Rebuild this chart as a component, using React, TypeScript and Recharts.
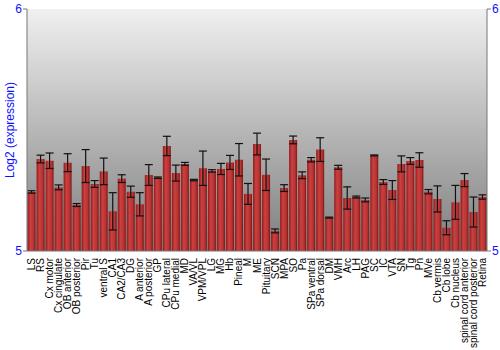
import { Bar, BarChart, CartesianGrid, ErrorBar, XAxis, YAxis } from "recharts";

const regions = [
  "LS", "RS", "Cx motor", "Cx cingulate", "OB anterior", "OB posterior", "Pir", "Tu",
  "ventral S", "CA1", "CA2/CA3", "DG", "A anterior", "A posterior", "GP", "CPu lateral",
  "CPu medial", "MD", "VA/VL", "VPM/VPL", "LG", "MG", "Hb", "Pineal", "M", "ME",
  "Pituitary", "SCN", "MPA", "SO", "Pa", "SPa ventral", "SPa dorsal", "DM", "VMH", "Arc",
  "LH", "PAG", "SC", "IC", "VTA", "SN", "Tg", "Pn", "MVe", "Cb vermis", "Cb lobe",
  "Cb nucleus", "spinal cord anterior", "spinal cord posterior", "Retina",
];

const expression = [
  5.244, 5.38, 5.373, 5.263, 5.365, 5.19, 5.351, 5.277,
  5.329, 5.164, 5.299, 5.245, 5.193, 5.314, 5.303, 5.434,
  5.322, 5.36, 5.293, 5.342, 5.331, 5.339, 5.366, 5.377, 5.236, 5.442,
  5.315, 5.083, 5.26, 5.459, 5.313, 5.377, 5.419, 5.138, 5.346, 5.219,
  5.223, 5.211, 5.395, 5.285, 5.252, 5.36, 5.372, 5.376, 5.245, 5.215, 5.096,
  5.201, 5.293, 5.161, 5.223,
];

const errors = [
  0.005, 0.016, 0.032, 0.01, 0.037, 0.006, 0.068, 0.014,
  0.055, 0.077, 0.016, 0.023, 0.048, 0.043, 0.003, 0.04,
  0.033, 0.006, 0.003, 0.071, 0.005, 0.023, 0.029, 0.067, 0.043, 0.045,
  0.065, 0.008, 0.014, 0.016, 0.014, 0.009, 0.049, 0.002, 0.008, 0.046,
  0.004, 0.008, 0.002, 0.01, 0.039, 0.033, 0.014, 0.03, 0.009, 0.054, 0.029,
  0.07, 0.027, 0.062, 0.009,
];

const yTicks = [5, 6];

const data = regions.map((name, i) => ({ name, value: expression[i], err: errors[i] }));

const XTick = (props: any) => {
  const { x, y, payload } = props;
  return (
    <text
      x={x}
      y={y}
      transform={`rotate(-90, ${x}, ${y})`}
      textAnchor="end"
      dominantBaseline="central"
      fontSize={10}
      fontFamily="Liberation Sans, Arial, sans-serif"
      fill="#000"
    >
      {payload.value}
    </text>
  );
};

export default function App() {
  return (
    <div style={{ position: "absolute", left: 0, top: 0, fontFamily: "Liberation Sans, Arial, sans-serif" }}>
      <BarChart
        width={500}
        height={350}
        data={data}
        margin={{ top: 9, right: 0, bottom: 0, left: 0 }}
        barCategoryGap="6%"
      >
        <defs>
          <linearGradient id="bg" x1="0" y1="0" x2="0" y2="1">
            <stop offset="0%" stopColor="#f0f0f0" />
            <stop offset="100%" stopColor="#7e7e7e" />
          </linearGradient>
          <linearGradient id="barFill" x1="0" y1="0" x2="1" y2="0">
            <stop offset="0%" stopColor="#8e1c1c" />
            <stop offset="35%" stopColor="#cc4040" />
            <stop offset="75%" stopColor="#b83232" />
            <stop offset="100%" stopColor="#7a1616" />
          </linearGradient>
        </defs>
        <CartesianGrid fill="url(#bg)" horizontal={false} vertical={false} />
        <XAxis
          dataKey="name"
          interval={0}
          height={99}
          tick={<XTick />}
          tickLine={false}
          axisLine={{ stroke: "#777" }}
          tickMargin={1}
        />
        <YAxis
          yAxisId="left"
          domain={[5, 6]}
          ticks={yTicks}
          allowDataOverflow
          width={27}
          tick={{ fill: "#1010ff", fontSize: 12 }}
          tickSize={4}
          tickMargin={1}
          tickLine={{ stroke: "#777" }}
          axisLine={{ stroke: "#777" }}
          label={{
            value: "Log2 (expression)",
            angle: -90,
            position: "insideLeft",
            offset: 10,
            fill: "#1010ff",
            fontSize: 12,
            style: { textAnchor: "middle" },
          }}
        />
        <YAxis
          yAxisId="right"
          orientation="right"
          domain={[5, 6]}
          ticks={yTicks}
          allowDataOverflow
          width={13}
          tick={{ fill: "#1010ff", fontSize: 12 }}
          tickSize={4}
          tickMargin={1}
          tickLine={{ stroke: "#777" }}
          axisLine={{ stroke: "#777" }}
        />
        <Bar yAxisId="left" dataKey="value" fill="url(#barFill)" isAnimationActive={false}>
          <ErrorBar dataKey="err" width={4} stroke="#111" strokeWidth={1.2} isAnimationActive={false} />
        </Bar>
      </BarChart>
    </div>
  );
}
